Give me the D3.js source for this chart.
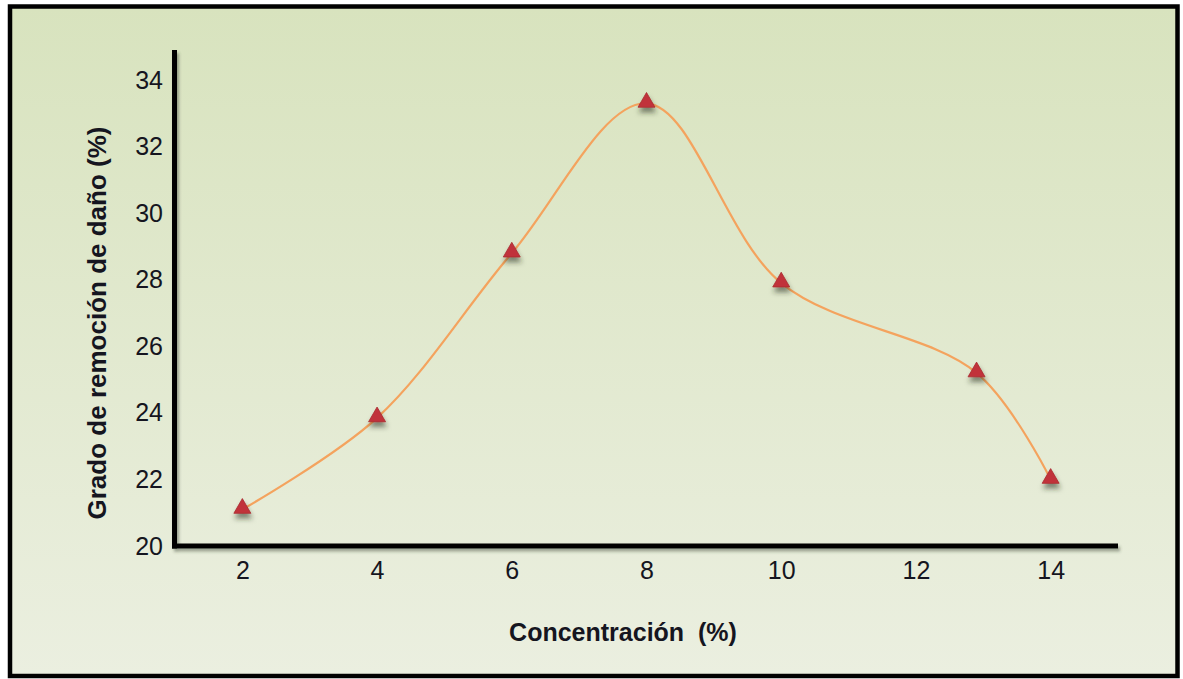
<!DOCTYPE html>
<html>
<head>
<meta charset="utf-8">
<script src="https://cdn.jsdelivr.net/npm/d3@7"></script>
<style>
  html, body { margin: 0; padding: 0; background: #ffffff; }
  svg { display: block; }
  text { font-family: "Liberation Sans", Arial, sans-serif; }
</style>
</head>
<body>
<script>
// Concentración (%) vs. grado de remoción de daño (%)
const concentracion = [2, 4, 6, 8, 10, 12.9, 14];
const remocion = [21.1, 23.85, 28.8, 33.3, 27.9, 25.2, 22.0];
const xTicks = [2, 4, 6, 8, 10, 12, 14];
const yTicks = [20, 22, 24, 26, 28, 30, 32, 34];
const xTitle = "Concentración  (%)";
const yTitle = "Grado de remoción de daño (%)";

const W = 1183, H = 679;
const svg = d3.select("body").append("svg").attr("width", W).attr("height", H);
const defs = svg.append("defs");

const grad = defs.append("linearGradient").attr("id", "bg")
  .attr("x1", 0).attr("y1", 0).attr("x2", 0).attr("y2", 1);
grad.append("stop").attr("offset", "0%").attr("stop-color", "#d8e3be");
grad.append("stop").attr("offset", "100%").attr("stop-color", "#ebefe0");

const shadow = defs.append("filter").attr("id", "shadow")
  .attr("x", "-50%").attr("y", "-50%").attr("width", "200%").attr("height", "200%");
shadow.append("feDropShadow").attr("dx", 1).attr("dy", 5).attr("stdDeviation", 2.5)
  .attr("flood-color", "#2a3320").attr("flood-opacity", 0.55);

const axShadow = defs.append("filter").attr("id", "axshadow")
  .attr("x", "-5%").attr("y", "-5%").attr("width", "110%").attr("height", "110%");
axShadow.append("feDropShadow").attr("dx", 2).attr("dy", 3).attr("stdDeviation", 1.8)
  .attr("flood-color", "#3a4430").attr("flood-opacity", 0.45);

// panel background and frame
svg.append("rect").attr("x", 10).attr("y", 7).attr("width", 1167).attr("height", 669)
  .attr("fill", "url(#bg)");
svg.append("rect").attr("x", 10).attr("y", 6.5).attr("width", 1167.5).attr("height", 669.5)
  .attr("fill", "none").attr("stroke", "#000").attr("stroke-width", 4.5);

const x = d3.scaleLinear().domain([1, 15]).range([175, 1118]);
const y = d3.scaleLinear().domain([20, 34]).range([546, 80]);

// axis lines
const axes = svg.append("g").attr("filter", "url(#axshadow)");
axes.append("line").attr("x1", x(1) - 0.5).attr("x2", x(1) - 0.5)
  .attr("y1", y(34.9)).attr("y2", y(20) + 2.5)
  .attr("stroke", "#000").attr("stroke-width", 5);
axes.append("line").attr("x1", x(1) - 3).attr("x2", x(15))
  .attr("y1", y(20)).attr("y2", y(20))
  .attr("stroke", "#000").attr("stroke-width", 5);

// tick labels
const yAxis = svg.append("g").attr("transform", `translate(${x(1) - 2},0)`)
  .call(d3.axisLeft(y).tickValues(yTicks).tickSize(0).tickPadding(10));
const xAxis = svg.append("g").attr("transform", `translate(0,${y(20)})`)
  .call(d3.axisBottom(x).tickValues(xTicks).tickSize(0).tickPadding(15));
[yAxis, xAxis].forEach(g => {
  g.select(".domain").remove();
  g.selectAll("text").attr("font-size", 25).attr("fill", "#151520")
    .attr("font-family", "'Liberation Sans', Arial, sans-serif");
});

// axis titles
svg.append("text").attr("transform", "translate(106,323) rotate(-90)")
  .attr("text-anchor", "middle").attr("font-size", 26).attr("font-weight", "bold")
  .attr("fill", "#151520").text(yTitle);
svg.append("text").attr("x", 623).attr("y", 641)
  .attr("text-anchor", "middle").attr("font-size", 25).attr("font-weight", "bold")
  .attr("fill", "#151520").style("white-space", "pre").text(xTitle);

// smoothed series line
const pts = concentracion.map((c, i) => [c, remocion[i]]);
const line = d3.line().x(d => x(d[0])).y(d => y(d[1])).curve(d3.curveCatmullRom.alpha(0.5));
svg.append("path").datum(pts).attr("d", line)
  .attr("fill", "none").attr("stroke", "#f4a35e").attr("stroke-width", 2.2);

// triangle markers
const tri = d3.symbol().type(d3.symbolTriangle).size(125);
svg.append("g").attr("filter", "url(#shadow)")
  .selectAll("path").data(pts).join("path")
  .attr("d", tri)
  .attr("transform", d => `translate(${x(d[0])},${y(d[1]) - 1})`)
  .attr("fill", "#c1333a").attr("stroke", "#a82a30").attr("stroke-width", 0.8);
</script>
</body>
</html>
